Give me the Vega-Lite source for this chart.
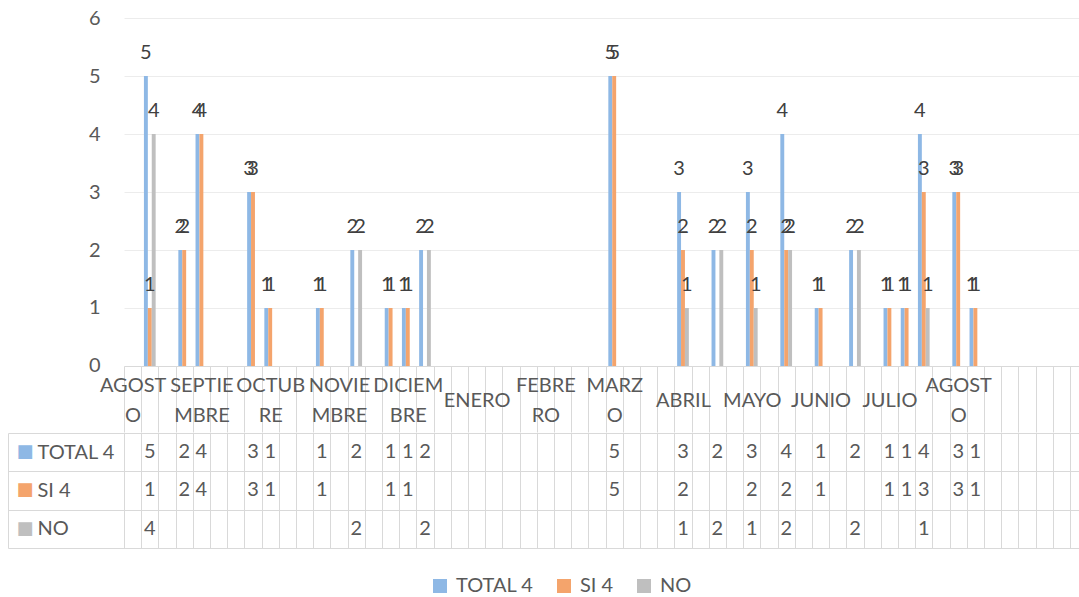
{
  "$schema": "https://vega.github.io/schema/vega-lite/v6.json",
  "background": "white",
  "padding": {"left": 7, "top": 8, "right": 5, "bottom": 5},
  "spacing": -11,
  "config": {"view": {"stroke": null}, "font": "Lato", "axis": {"labelFont": "Lato", "labelColor": "#595959"}},
  "datasets": {
    "d": [
      {"col": "01", "serie": "TOTAL 4", "valor": 5}, {"col": "01", "serie": "SI 4", "valor": 1}, {"col": "01", "serie": "NO", "valor": 4},
      {"col": "03", "serie": "TOTAL 4", "valor": 2}, {"col": "03", "serie": "SI 4", "valor": 2},
      {"col": "04", "serie": "TOTAL 4", "valor": 4}, {"col": "04", "serie": "SI 4", "valor": 4},
      {"col": "07", "serie": "TOTAL 4", "valor": 3}, {"col": "07", "serie": "SI 4", "valor": 3},
      {"col": "08", "serie": "TOTAL 4", "valor": 1}, {"col": "08", "serie": "SI 4", "valor": 1},
      {"col": "11", "serie": "TOTAL 4", "valor": 1}, {"col": "11", "serie": "SI 4", "valor": 1},
      {"col": "13", "serie": "TOTAL 4", "valor": 2}, {"col": "13", "serie": "NO", "valor": 2},
      {"col": "15", "serie": "TOTAL 4", "valor": 1}, {"col": "15", "serie": "SI 4", "valor": 1},
      {"col": "16", "serie": "TOTAL 4", "valor": 1}, {"col": "16", "serie": "SI 4", "valor": 1},
      {"col": "17", "serie": "TOTAL 4", "valor": 2}, {"col": "17", "serie": "NO", "valor": 2},
      {"col": "28", "serie": "TOTAL 4", "valor": 5}, {"col": "28", "serie": "SI 4", "valor": 5},
      {"col": "32", "serie": "TOTAL 4", "valor": 3}, {"col": "32", "serie": "SI 4", "valor": 2}, {"col": "32", "serie": "NO", "valor": 1},
      {"col": "34", "serie": "TOTAL 4", "valor": 2}, {"col": "34", "serie": "NO", "valor": 2},
      {"col": "36", "serie": "TOTAL 4", "valor": 3}, {"col": "36", "serie": "SI 4", "valor": 2}, {"col": "36", "serie": "NO", "valor": 1},
      {"col": "38", "serie": "TOTAL 4", "valor": 4}, {"col": "38", "serie": "SI 4", "valor": 2}, {"col": "38", "serie": "NO", "valor": 2},
      {"col": "40", "serie": "TOTAL 4", "valor": 1}, {"col": "40", "serie": "SI 4", "valor": 1},
      {"col": "42", "serie": "TOTAL 4", "valor": 2}, {"col": "42", "serie": "NO", "valor": 2},
      {"col": "44", "serie": "TOTAL 4", "valor": 1}, {"col": "44", "serie": "SI 4", "valor": 1},
      {"col": "45", "serie": "TOTAL 4", "valor": 1}, {"col": "45", "serie": "SI 4", "valor": 1},
      {"col": "46", "serie": "TOTAL 4", "valor": 4}, {"col": "46", "serie": "SI 4", "valor": 3}, {"col": "46", "serie": "NO", "valor": 1},
      {"col": "48", "serie": "TOTAL 4", "valor": 3}, {"col": "48", "serie": "SI 4", "valor": 3},
      {"col": "49", "serie": "TOTAL 4", "valor": 1}, {"col": "49", "serie": "SI 4", "valor": 1}
    ]
  },
  "vconcat": [
    {
      "width": 980.4,
      "height": 348,
      "data": {"name": "d"},
      "encoding": {
        "x": {
          "field": "col", "type": "nominal",
          "scale": {"type": "band", "domain": ["00","01","02","03","04","05","06","07","08","09","10","11","12","13","14","15","16","17","18","19","20","21","22","23","24","25","26","27","28","29","30","31","32","33","34","35","36","37","38","39","40","41","42","43","44","45","46","47","48","49","50","51","52","53","54","55","56"], "paddingInner": 0, "paddingOuter": 0},
          "axis": {
            "title": null,
            "labelExpr": "datum.value=='00'?['AGOST','O']:datum.value=='04'?['SEPTIE','MBRE']:datum.value=='08'?['OCTUB','RE']:datum.value=='12'?['NOVIE','MBRE']:datum.value=='16'?['DICIEM','BRE']:datum.value=='20'?'ENERO':datum.value=='24'?['FEBRE','RO']:datum.value=='28'?['MARZ','O']:datum.value=='32'?'ABRIL':datum.value=='36'?'MAYO':datum.value=='40'?'JUNIO':datum.value=='44'?'JULIO':datum.value=='48'?['AGOST','O']:''",
            "labelAngle": 0, "labelFontSize": 20, "labelColor": "#595959", "labelBaseline": "middle", "labelLineHeight": 30,
            "labelPadding": {"condition": {"test": "datum.value=='20'||datum.value=='32'||datum.value=='36'||datum.value=='40'||datum.value=='44'", "value": -31}, "value": -46},
            "labelOverlap": false, "labelBound": false, "labelFlush": false,
            "tickBand": "extent", "tickSize": 66, "tickColor": "#d9d9d9", "tickWidth": 1,
            "domainColor": "#d9d9d9", "domainWidth": 1, "grid": false
          }
        },
        "xOffset": {"field": "serie", "type": "nominal", "scale": {"domain": ["TOTAL 4", "SI 4", "NO"], "paddingInner": 0, "paddingOuter": 0.7}},
        "y": {
          "field": "valor", "type": "quantitative",
          "scale": {"domain": [0, 6], "nice": false},
          "axis": {"title": null, "values": [0,1,2,3,4,5,6], "domain": false, "ticks": false, "grid": true, "gridColor": "#ececec", "labelFontSize": 20, "labelPadding": 24, "labelColor": "#595959"}
        }
      },
      "layer": [
        {
          "mark": {"type": "bar"},
          "encoding": {
            "color": {
              "field": "serie", "type": "nominal",
              "scale": {"domain": ["TOTAL 4", "SI 4", "NO"], "range": ["#8EB8E5", "#F4A46C", "#BFBFBF"]},
              "legend": {"title": null, "orient": "none", "legendX": 306, "legendY": 558, "direction": "horizontal", "symbolType": "square", "symbolSize": 196, "symbolStrokeWidth": 0, "labelFontSize": 20, "labelColor": "#595959", "labelFont": "Lato", "columnPadding": 20, "labelOffset": 6}
            }
          }
        },
        {
          "mark": {"type": "text", "baseline": "alphabetic", "dy": -17, "fontSize": 20, "color": "#404040"},
          "encoding": {"text": {"field": "valor", "type": "quantitative"}}
        }
      ]
    },
    {
      "width": 980.4,
      "height": 115,
      "data": {"name": "d"},
      "layer": [
        {
          "mark": {"type": "text", "fontSize": 20, "color": "#595959"},
          "encoding": {
            "x": {
              "field": "col", "type": "nominal",
              "scale": {"type": "band", "domain": ["00","01","02","03","04","05","06","07","08","09","10","11","12","13","14","15","16","17","18","19","20","21","22","23","24","25","26","27","28","29","30","31","32","33","34","35","36","37","38","39","40","41","42","43","44","45","46","47","48","49","50","51","52","53","54","55","56"], "paddingInner": 0, "paddingOuter": 0},
              "axis": {"title": null, "labels": false, "ticks": false, "grid": true, "gridColor": "#d9d9d9", "tickBand": "extent", "domainColor": "#d9d9d9"}
            },
            "y": {
              "field": "serie", "type": "nominal",
              "scale": {"type": "band", "domain": ["TOTAL 4", "SI 4", "NO"], "paddingInner": 0, "paddingOuter": 0},
              "axis": {"title": null, "orient": "left", "tickBand": "extent", "tickSize": 116, "tickColor": "#d9d9d9", "domainColor": "#d9d9d9", "grid": true, "gridColor": "#d9d9d9", "labelAlign": "left", "labelPadding": -29, "labelFontSize": 20, "labelColor": "#595959", "labelBaseline": "middle"}
            },
            "text": {"field": "valor", "type": "quantitative"}
          }
        },
        {
          "mark": {"type": "text", "opacity": 0},
          "encoding": {
            "y": {
              "field": "serie", "type": "nominal",
              "axis": {"title": null, "orient": "left", "offset": 116, "ticks": false, "grid": false, "domain": true, "domainColor": "#d9d9d9", "labelExpr": "'■'", "labelFont": "DejaVu Sans", "labelFontSize": 18, "labelAlign": "left", "labelPadding": -8, "labelBaseline": "middle",
                "labelColor": {"condition": [{"test": "datum.value=='TOTAL 4'", "value": "#8EB8E5"}, {"test": "datum.value=='SI 4'", "value": "#F4A46C"}], "value": "#BFBFBF"}}
            },
            "text": {"value": ""}
          }
        }
      ],
      "resolve": {"axis": {"y": "independent"}}
    }
  ]
}
